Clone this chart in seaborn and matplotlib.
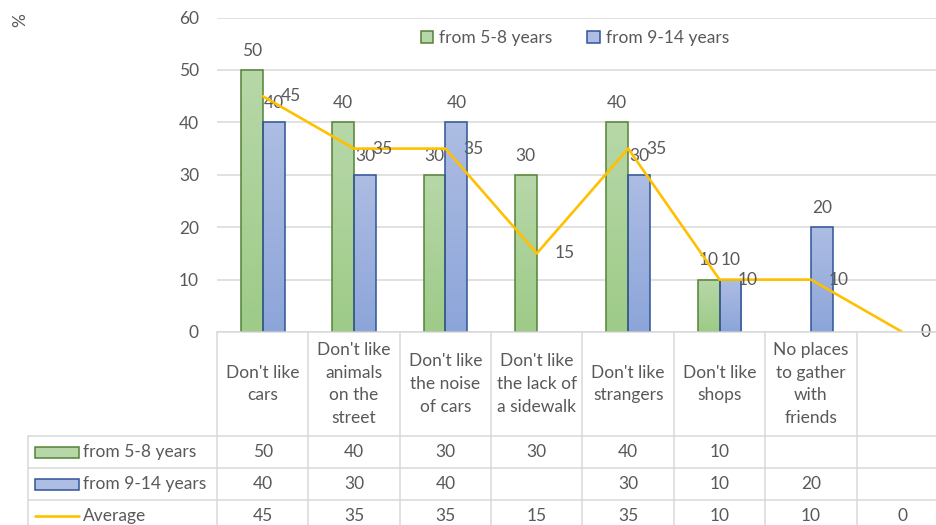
import numpy as np
import pandas as pd
import matplotlib
matplotlib.use("Agg")
import matplotlib.pyplot as plt
import matplotlib.transforms as mtransforms
from matplotlib.patches import Patch, Rectangle
from matplotlib.lines import Line2D
from matplotlib.colors import LinearSegmentedColormap
import seaborn as sns

# ---- data ----
categories = [
    "Don't like\ncars",
    "Don't like\nanimals\non the\nstreet",
    "Don't like\nthe noise\nof cars",
    "Don't like\nthe lack of\na sidewalk",
    "Don't like\nstrangers",
    "Don't like\nshops",
    "No places\nto gather\nwith\nfriends",
    " ",
]
series_names = ["from 5-8 years", "from 9-14 years"]
young = [50, 40, 30, 30, 40, 10, np.nan, np.nan]
older = [40, 30, 40, np.nan, 30, 10, 20, np.nan]
average = [45, 35, 35, 15, 35, 10, 10, 0]
average_name = "Average"
y_ticks = [0, 10, 20, 30, 40, 50, 60]
y_unit = "%"

# ---- styling ----
W, H = 937, 525
TXT = "#595959"
GRID = "#d9d9d9"
GREEN_EDGE, BLUE_EDGE = "#548235", "#2f5597"
GREEN_TOP, GREEN_BOT = "#b7d7a8", "#9ecb88"
BLUE_TOP, BLUE_BOT = "#adbde3", "#8ca5d9"
GOLD = "#ffc000"
FS = 12.5

sns.set_theme(style="white")
plt.rcParams["font.family"] = ["Lato", "DejaVu Sans"]
plt.rcParams["text.color"] = TXT

fig = plt.figure(figsize=(W / 100, H / 100), dpi=100)
x0, x1, y_top, y_zero = 217, 948, 17.6, 332
ax = fig.add_axes([x0 / W, 1 - y_zero / H, (x1 - x0) / W, (y_zero - y_top) / H])

df = pd.DataFrame({
    "category": categories * 2,
    "group": [series_names[0]] * len(categories) + [series_names[1]] * len(categories),
    "value": young + older,
}).dropna()

sns.barplot(data=df, x="category", y="value", hue="group", order=categories,
            hue_order=series_names, palette=[GREEN_BOT, BLUE_BOT], width=0.48,
            ax=ax, legend=False, linewidth=1.1, saturation=1)

edge_cols = [GREEN_EDGE, BLUE_EDGE]
grads = [LinearSegmentedColormap.from_list("g", [GREEN_BOT, GREEN_TOP]),
         LinearSegmentedColormap.from_list("b", [BLUE_BOT, BLUE_TOP])]
for cont, ec, cmap in zip(ax.containers, edge_cols, grads):
    for bar in cont:
        h = bar.get_height()
        if not np.isfinite(h) or h <= 0:
            continue
        bar.set_edgecolor(ec)
        bar.set_facecolor("none")
        bar.set_zorder(3)
        bx, bw = bar.get_x(), bar.get_width()
        im = ax.imshow(np.linspace(0, 1, 64).reshape(-1, 1), cmap=cmap, origin="lower",
                       extent=[bx, bx + bw, 0, h], aspect="auto", zorder=2)
        im.set_clip_path(bar)
    ax.bar_label(cont, fmt="%g", padding=8, color=TXT, fontsize=FS)

pos = np.arange(len(categories))
sns.lineplot(x=pos, y=average, color=GOLD, linewidth=1.9, ax=ax, zorder=4)
for xi, v in zip(pos, average):
    ax.annotate(f"{v:g}", (xi, v), xytext=(13, 0), textcoords="offset points",
                ha="left", va="center", color=TXT, fontsize=FS, zorder=5,
                annotation_clip=False)

ax.set_xlim(-0.5, len(categories) - 0.5)
ax.set_ylim(y_ticks[0], y_ticks[-1])
ax.set_yticks(y_ticks)
ax.set_xticks([])
ax.set_xlabel("")
ax.set_ylabel("")
ax.tick_params(axis="y", length=0, pad=13, labelsize=FS, labelcolor=TXT)
ax.grid(axis="y", color=GRID, linewidth=1.1)
ax.set_axisbelow(True)
for s in ax.spines.values():
    s.set_visible(False)

fig.text(12 / W, 1 - 20 / H, y_unit, rotation=90, ha="left", va="center",
         fontsize=FS, color=TXT)

handles = [Patch(facecolor=GREEN_TOP, edgecolor=GREEN_EDGE, linewidth=1.1),
           Patch(facecolor=BLUE_TOP, edgecolor=BLUE_EDGE, linewidth=1.1)]
ax.legend(handles, series_names, loc="center", bbox_to_anchor=(575 / W, 1 - 38 / H),
          bbox_transform=fig.transFigure, ncol=2, frameon=False, fontsize=FS,
          handlelength=0.7, handleheight=0.7, handletextpad=0.35,
          columnspacing=2.0, labelcolor=TXT)

# ---- data table below the plot ----
bt = mtransforms.blended_transform_factory(ax.transData, fig.transFigure)
def fy(y):
    return 1 - y / H

row_lines = [332, 436, 468, 500, 532]
tbl_left = 28
lw = 1.1
# horizontal rules
fig.add_artist(Line2D([x0 / W, 1], [fy(332)] * 2, color=GRID, lw=lw))
for y in row_lines[1:]:
    fig.add_artist(Line2D([tbl_left / W, 1], [fy(y)] * 2, color=GRID, lw=lw))
# vertical rules
fig.add_artist(Line2D([tbl_left / W] * 2, [fy(436), fy(532)], color=GRID, lw=lw))
for i in range(len(categories) + 1):
    ax.add_line(Line2D([i - 0.5] * 2, [fy(332), fy(532)], transform=bt,
                       color=GRID, lw=lw, clip_on=False))

for i, c in enumerate(categories):
    ax.text(i, fy(384), c, transform=bt, ha="center", va="center", fontsize=FS,
            color=TXT, linespacing=1.5, multialignment="center")

row_vals = [young, older, average]
row_centers = [452, 484, 516]
for vals, yc in zip(row_vals, row_centers):
    for i, v in enumerate(vals):
        if np.isfinite(v):
            ax.text(i, fy(yc), f"{v:g}", transform=bt, ha="center", va="center",
                    fontsize=FS, color=TXT)

row_names = series_names + [average_name]
for k, (name, yc) in enumerate(zip(row_names, row_centers)):
    fig.text(83 / W, fy(yc), name, ha="left", va="center", fontsize=FS, color=TXT)
    if k < 2:
        fig.add_artist(Rectangle((35 / W, fy(yc + 5.5)), 44 / W, 11 / H,
                                 transform=fig.transFigure,
                                 facecolor=[GREEN_TOP, BLUE_TOP][k],
                                 edgecolor=edge_cols[k], linewidth=1.1))
    else:
        fig.add_artist(Line2D([35 / W, 79 / W], [fy(yc)] * 2, color=GOLD, lw=1.9))

fig.savefig("out.png", dpi=100)
